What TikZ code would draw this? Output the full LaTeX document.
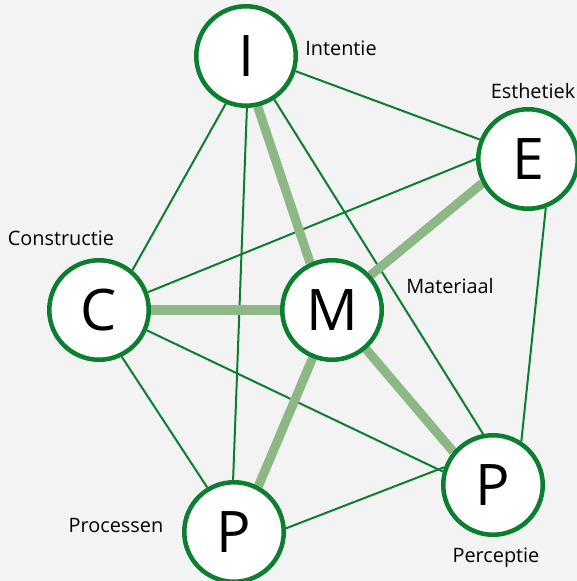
\documentclass[tikz,border=0pt]{standalone}
\usepackage{fontspec}
\setmainfont{Open Sans}
\newfontfamily\bigfont{Open Sans}
\definecolor{dg}{HTML}{0B7F2F}
\definecolor{lg}{HTML}{8DB886}
\definecolor{bgc}{HTML}{F3F3F3}
\pgfdeclarelayer{bglayer}
\pgfdeclarelayer{lines}
\pgfsetlayers{bglayer,lines,main}
\tikzset{
  ball/.style={circle, draw=dg, line width=3.4pt, fill=white, minimum size=74.6pt, inner sep=0pt, font=\bigfont\fontsize{43}{43}\selectfont},
  lbl/.style={font=\fontsize{14.9}{14.9}\selectfont, inner sep=0pt, text=black},
  thin/.style={draw=dg, line width=1.5pt},
  thick/.style={draw=lg, line width=6.8pt}
}
\begin{document}
\begin{tikzpicture}[x=0.75pt,y=-0.75pt]
\begin{pgfonlayer}{bglayer}
\fill[bgc] (0,0) rectangle (577,581);
\end{pgfonlayer}
\useasboundingbox (0,0) rectangle (577,581);
\node[ball] (I) at (246,56) {I};
\node[ball] (E) at (528,159) {E};
\node[ball] (C) at (99,310) {C};
\node[ball] (M) at (332,310) {M};
\node[ball] (PR) at (493,485) {P};
\node[ball] (PB) at (234,532) {P};
\node[lbl] (lI) at (341,48) {Intentie};
\node[lbl] (lE) at (533,91) {Esthetiek};
\node[lbl] (lC) at (61,238) {Constructie};
\node[lbl] (lM) at (450,286) {Materiaal};
\node[lbl] (lPB) at (116,525) {Processen};
\node[lbl] (lPR) at (496,558) {Perceptie};
\begin{pgfonlayer}{lines}
\draw[thin] (I.-17) -- (E.158);
\draw[thin] (I.-113) -- (C.50);
\draw[thin] (I.-89) -- (PB.91);
\draw[thin] (I.-57) -- (PR.101);
\draw[thin] (C.20) -- (E.180);
\draw[thin] (C.-23) -- (PR.165);
\draw[thin] (C.-64) -- (PB.121);
\draw[thin] (E.-70) -- (PR.57);
\draw[thin] (PB.4) -- (PR.160);
\draw[thick] (I.-77) -- (M.115);
\draw[thick] (E.-152) -- (M.42);
\draw[thick] (C.0) -- (M.180);
\draw[thick] (M.-112) -- (PB.62);
\draw[thick] (M.-49) -- (PR.140);
\end{pgfonlayer}
\end{tikzpicture}
\end{document}
